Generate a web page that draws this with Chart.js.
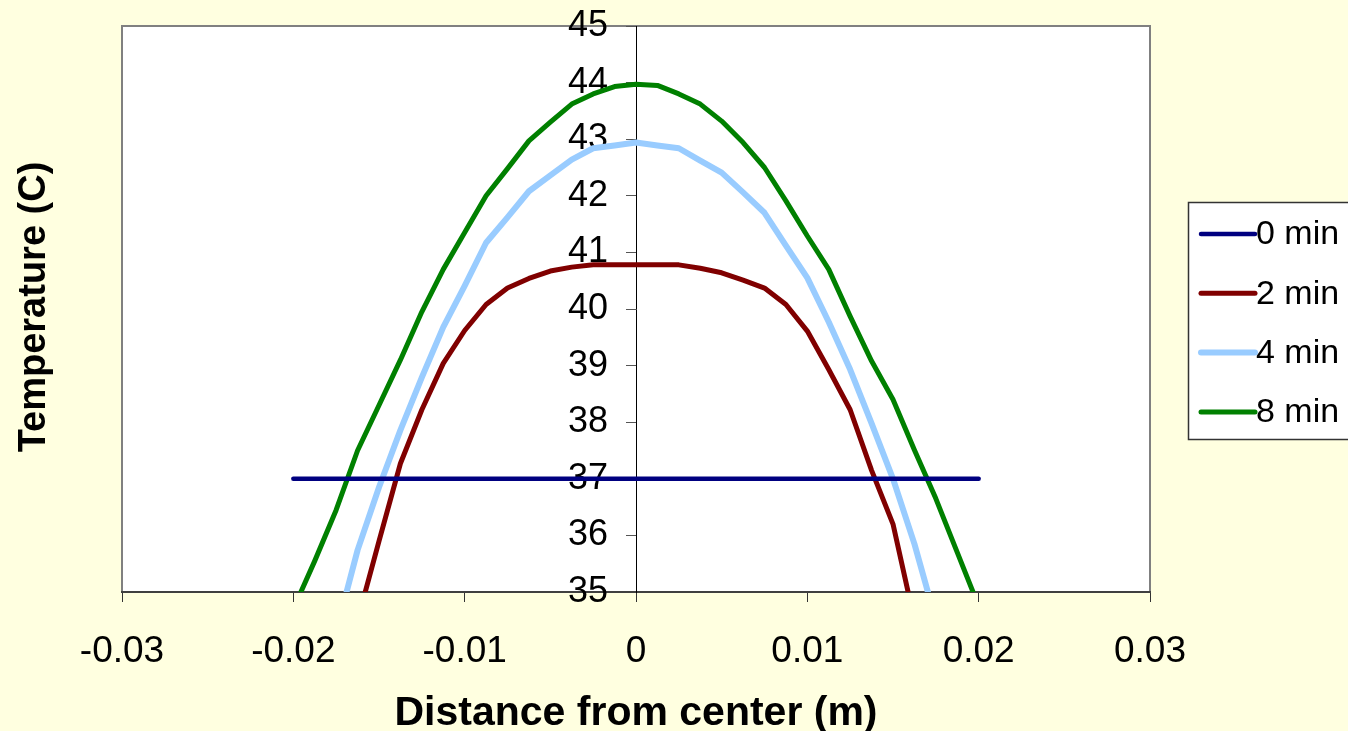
<!DOCTYPE html>
<html>
<head>
<meta charset="utf-8">
<script src="https://cdn.jsdelivr.net/npm/chart.js@4.4.0/dist/chart.umd.min.js"></script>
<style>
html, body { margin: 0; padding: 0; background: #FFFFE0; }
</style>
</head>
<body>
<canvas id="tempChart" width="1348" height="731"></canvas>
<script>
Chart.defaults.font.family = "'Liberation Sans', Arial, sans-serif";
Chart.defaults.color = '#000';

var distance = [-0.02, -0.01875, -0.0175, -0.01625, -0.015, -0.01375, -0.0125, -0.01125, -0.01,
  -0.00875, -0.0075, -0.00625, -0.005, -0.00375, -0.0025, -0.00125, 0,
  0.00125, 0.0025, 0.00375, 0.005, 0.00625, 0.0075, 0.00875, 0.01,
  0.01125, 0.0125, 0.01375, 0.015, 0.01625, 0.0175, 0.01875, 0.02];

var temp0 = [37, 37, 37, 37, 37, 37, 37, 37, 37, 37, 37, 37, 37, 37, 37, 37, 37,
  37, 37, 37, 37, 37, 37, 37, 37, 37, 37, 37, 37, 37, 37, 37, 37];
var temp2 = [null, null, null, 34.5, 35.9, 37.27, 38.22, 39.04, 39.62, 40.08, 40.37, 40.54, 40.67, 40.74, 40.78, 40.78, 40.78,
  40.78, 40.78, 40.72, 40.64, 40.51, 40.37, 40.08, 39.61, 38.93, 38.22, 37.15, 36.2, 34.5, null, null, null];
var temp4 = [null, null, 34.3, 35.74, 36.85, 37.86, 38.79, 39.68, 40.41, 41.17, 41.62, 42.08, 42.36, 42.64, 42.84, 42.89, 42.94,
  42.89, 42.84, 42.62, 42.41, 42.06, 41.7, 41.12, 40.55, 39.77, 38.93, 37.98, 37.0, 35.85, 34.5, null, null];
var temp8 = [34.7, 35.55, 36.45, 37.5, 38.3, 39.1, 39.95, 40.7, 41.35, 42.0, 42.48, 42.97, 43.3, 43.62, 43.8, 43.93, 43.97,
  43.95, 43.8, 43.62, 43.32, 42.94, 42.5, 41.91, 41.29, 40.7, 39.87, 39.08, 38.4, 37.51, 36.65, 35.7, 34.75];

var seriesNames = ['0 min', '2 min', '4 min', '8 min'];
var seriesColors = ['#000080', '#800000', '#99CCFF', '#008000'];
var seriesWidths = [4.5, 5, 6, 5];

function points(ys) {
  return distance.map(function (d, i) { return { x: d, y: ys[i] }; });
}

// plot frame, y title and boxed legend, drawn like the spreadsheet chart
var frame = {
  id: 'frame',
  afterLayout: function (chart) {
    // y axis crosses at x = 0, labels stay on its left side
    var ys = chart.scales.y;
    var px = chart.scales.x.getPixelForValue(0);
    ys.left = px - 130;
    ys.right = px;
    ys._labelItems = null;
    ys._gridLineItems = null;
  },
  beforeDraw: function (chart) {
    var c = chart.ctx, a = chart.chartArea;
    c.save();
    c.fillStyle = '#FFFFE0';
    c.fillRect(0, 0, chart.width, chart.height);
    c.fillStyle = '#ffffff';
    c.fillRect(a.left, a.top, a.right - a.left, a.bottom - a.top);
    c.strokeStyle = '#808080';
    c.lineWidth = 2;
    c.strokeRect(a.left, a.top, a.right - a.left, a.bottom - a.top);
    c.restore();
  },
  afterDraw: function (chart) {
    var c = chart.ctx;
    c.save();
    c.translate(35, 307);
    c.rotate(-Math.PI / 2);
    c.font = "bold 38px 'Liberation Sans', Arial, sans-serif";
    c.fillStyle = '#000';
    c.textAlign = 'center';
    c.textBaseline = 'middle';
    c.fillText('Temperature (C)', 0, 0);
    c.restore();

    c.save();
    c.fillStyle = '#fff';
    c.fillRect(1188, 202, 170, 237);
    c.strokeStyle = '#333';
    c.lineWidth = 1.5;
    c.strokeRect(1188.5, 202.5, 170, 237);
    c.font = "34px 'Liberation Sans', Arial, sans-serif";
    c.textBaseline = 'middle';
    c.textAlign = 'left';
    chart.data.datasets.forEach(function (ds, i) {
      var y = 234 + i * 59.3;
      c.strokeStyle = ds.borderColor;
      c.lineWidth = ds.borderWidth;
      c.lineCap = 'round';
      c.beginPath();
      c.moveTo(1201, y);
      c.lineTo(1255, y);
      c.stroke();
      c.fillStyle = '#000';
      c.fillText(ds.label, 1256, y + 1);
    });
    c.restore();
  }
};

var ctx = document.getElementById('tempChart');

var myChart = new Chart(ctx, {
  type: 'scatter',
  data: {
    datasets: [temp0, temp2, temp4, temp8].map(function (ys, i) {
      return {
        label: seriesNames[i],
        data: points(ys),
        showLine: true,
        borderColor: seriesColors[i],
        backgroundColor: seriesColors[i],
        borderWidth: seriesWidths[i],
        borderCapStyle: 'round',
        borderJoinStyle: 'round',
        pointRadius: 0,
        pointHoverRadius: 0,
        tension: 0,
        clip: 0
      };
    })
  },
  options: {
    responsive: false,
    animation: false,
    events: [],
    layout: { padding: { left: 122, right: 198, top: 26, bottom: 0 } },
    plugins: {
      legend: { display: false },
      tooltip: { enabled: false }
    },
    scales: {
      x: {
        type: 'linear',
        min: -0.03,
        max: 0.03,
        afterFit: function (scale) {
          scale.height = 139;
          scale.paddingLeft = 0;
          scale.paddingRight = 0;
        },
        ticks: {
          stepSize: 0.01,
          padding: 28,
          maxRotation: 0,
          font: { size: 37 },
          callback: function (v) { return String(Number(v.toFixed(2))); }
        },
        grid: { drawOnChartArea: false, drawTicks: true, tickLength: 10, color: '#333' },
        border: { color: '#404040', width: 2 },
        title: {
          display: true,
          text: 'Distance from center (m)',
          font: { size: 41, weight: 'bold', lineHeight: 1 },
          padding: { top: 0, bottom: -3 }
        }
      },
      y: {
        type: 'linear',
        position: 'left',
        min: 35,
        max: 45,
        afterFit: function (scale) {
          scale.width = 0;
          scale.paddingTop = 0;
          scale.paddingBottom = 0;
        },
        ticks: {
          stepSize: 1,
          padding: 18,
          font: { size: 36 }
        },
        grid: { drawOnChartArea: false, drawTicks: true, tickLength: 10, color: '#555' },
        border: { color: '#000', width: 1 }
      }
    }
  },
  plugins: [frame]
});
</script>
</body>
</html>
